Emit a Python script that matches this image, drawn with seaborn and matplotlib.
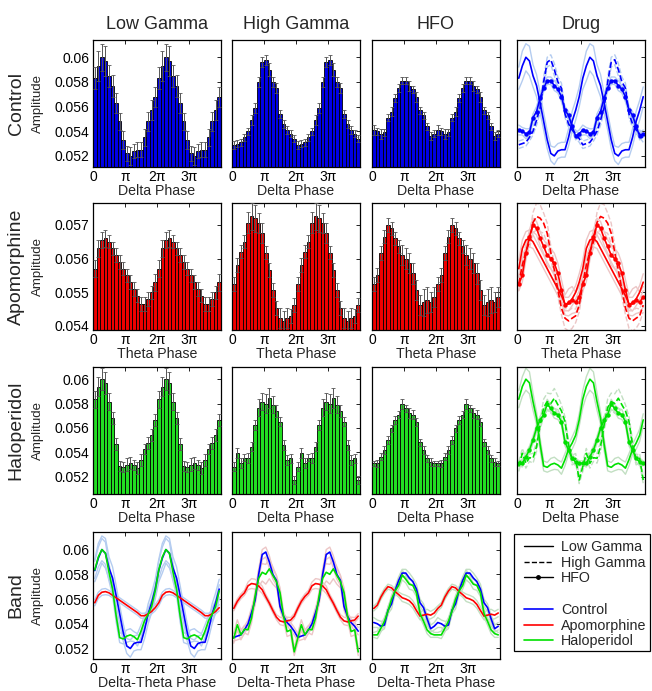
import numpy as np
import matplotlib
matplotlib.use("Agg")
import matplotlib.pyplot as plt
from matplotlib.lines import Line2D
from matplotlib.patches import Rectangle
import seaborn as sns

sns.set_style("white")
plt.rcParams['font.family'] = ['Liberation Sans', 'DejaVu Sans']

# ---------------- data (one 0..2pi cycle, 18 bins of 20 deg; shown twice) -------------
drugs = ["Control", "Apomorphine", "Haloperidol"]
bands = ["Low Gamma", "High Gamma", "HFO"]
phase_labels = ["Delta Phase", "Theta Phase", "Delta Phase"]
band_row_label = "Delta-Theta Phase"
xtick_labels = ["0", "π", "2π", "3π"]

control_lg = [0.0583, 0.0593, 0.0600, 0.0597, 0.0585, 0.0577, 0.0563, 0.0548, 0.0533,
              0.0522, 0.0520, 0.0524, 0.0525, 0.0525, 0.0535, 0.0548, 0.0557, 0.0568]
control_hg = [0.0529, 0.0530, 0.0531, 0.0535, 0.0540, 0.0549, 0.0559, 0.0580, 0.0596,
              0.0598, 0.0590, 0.0580, 0.0575, 0.0554, 0.0546, 0.0541, 0.0538, 0.0534]
control_hfo = [0.0541, 0.0540, 0.0538, 0.0539, 0.0551, 0.0556, 0.0567, 0.0575, 0.0581,
               0.0581, 0.0577, 0.0574, 0.0568, 0.0557, 0.0553, 0.0544, 0.0536, 0.0538]
apo_lg = [0.0557, 0.0563, 0.05655, 0.0566, 0.0565, 0.0563, 0.0561, 0.0559, 0.0557,
          0.0555, 0.0553, 0.0551, 0.0549, 0.05465, 0.05465, 0.0548, 0.0550, 0.0553]
apo_hg = [0.05525, 0.05581, 0.05621, 0.0565, 0.05707, 0.05725, 0.0572, 0.05705, 0.05675,
          0.05618, 0.05566, 0.05507, 0.05453, 0.05423, 0.05415, 0.05423, 0.0543, 0.05462]
apo_hfo = [0.05524, 0.05551, 0.05616, 0.05665, 0.0570, 0.0569, 0.0566, 0.05636, 0.0561,
           0.0560, 0.05586, 0.05556, 0.05507, 0.05462, 0.0547, 0.05477, 0.0547, 0.05487]
halo_lg = [0.05836, 0.0594, 0.0600, 0.0597, 0.05816, 0.0568, 0.05466, 0.05288, 0.05277,
           0.0530, 0.0531, 0.05296, 0.0527, 0.0534, 0.05425, 0.05475, 0.0554, 0.05666]
halo_hg = [0.05283, 0.05392, 0.0531, 0.05356, 0.05351, 0.05447, 0.05625, 0.05767, 0.05816,
           0.0580, 0.05844, 0.0579, 0.0574, 0.05652, 0.0546, 0.05337, 0.0535, 0.05173]
halo_hfo = [0.0531, 0.0531, 0.05364, 0.0542, 0.05502, 0.05598, 0.05666, 0.0571, 0.05795,
            0.0576, 0.0572, 0.0571, 0.0565, 0.05483, 0.0542, 0.0535, 0.0532, 0.0531]

control_lg_err = [0.0009, 0.0012, 0.0011, 0.0012, 0.0009, 0.0009, 0.0008, 0.0007, 0.0007,
                  0.0006, 0.0007, 0.0006, 0.0006, 0.0006, 0.0007, 0.0008, 0.0008, 0.0008]
control_hg_err = [0.0003, 0.0003, 0.0003, 0.0003, 0.0003, 0.0004, 0.0004, 0.0004, 0.0004,
                  0.0004, 0.0005, 0.0004, 0.0004, 0.0003, 0.0003, 0.0003, 0.0003, 0.0003]
control_hfo_err = [0.0004, 0.0003, 0.0004, 0.0003, 0.0003, 0.0004, 0.0003, 0.0003, 0.0003,
                   0.0003, 0.0004, 0.0003, 0.0004, 0.0003, 0.0003, 0.0003, 0.0003, 0.0003]
apo_lg_err = [0.00025, 0.00025, 0.00025, 0.00025, 0.0002, 0.0002, 0.0002, 0.0002, 0.0002,
              0.0002, 0.0002, 0.0002, 0.0002, 0.0002, 0.0002, 0.0002, 0.0002, 0.00025]
apo_hg_err = [0.0002, 0.0002, 0.0002, 0.0002, 0.0003, 0.0004, 0.0004, 0.0003, 0.0003,
              0.0002, 0.0002, 0.0002, 0.0002, 0.0003, 0.0003, 0.0003, 0.0002, 0.0002]
apo_hfo_err = [0.0002, 0.0002, 0.0002, 0.0002, 0.0002, 0.0002, 0.0002, 0.0002, 0.0003,
               0.0003, 0.0003, 0.0003, 0.0003, 0.0003, 0.0004, 0.0004, 0.0003, 0.0003]
halo_lg_err = [0.0007, 0.0008, 0.0009, 0.0009, 0.0007, 0.0005, 0.0005, 0.0004, 0.0004,
               0.0005, 0.0005, 0.0004, 0.0005, 0.0005, 0.0004, 0.0005, 0.0005, 0.0005]
halo_hg_err = [0.0004, 0.0004, 0.0004, 0.0003, 0.0004, 0.0004, 0.0004, 0.0007, 0.0007,
               0.0008, 0.0008, 0.0007, 0.0005, 0.0004, 0.0004, 0.0004, 0.0004, 0.0003]
halo_hfo_err = [0.0002, 0.0003, 0.0003, 0.0003, 0.0003, 0.0003, 0.0003, 0.0003, 0.0004,
                0.0003, 0.0004, 0.0004, 0.0003, 0.0003, 0.0003, 0.0003, 0.0003, 0.0002]

means = [[control_lg, control_hg, control_hfo],
         [apo_lg, apo_hg, apo_hfo],
         [halo_lg, halo_hg, halo_hfo]]
errs = [[control_lg_err, control_hg_err, control_hfo_err],
        [apo_lg_err, apo_hg_err, apo_hfo_err],
        [halo_lg_err, halo_hg_err, halo_hfo_err]]

row_ylims = [(0.0511, 0.0614), (0.05388, 0.05765), (0.05058, 0.0610), (0.05115, 0.06142)]
row_yticks = [[0.052, 0.054, 0.056, 0.058, 0.06], [0.054, 0.055, 0.056, 0.057],
              [0.052, 0.054, 0.056, 0.058, 0.06], [0.052, 0.054, 0.056, 0.058, 0.06]]
row_ytick_labels = [["0.052", "0.054", "0.056", "0.058", "0.06"],
                    ["0.054", "0.055", "0.056", "0.057"],
                    ["0.052", "0.054", "0.056", "0.058", "0.06"],
                    ["0.052", "0.054", "0.056", "0.058", "0.06"]]

bar_colors = ["#0000e6", "#f00000", "#22dd22"]
line_colors = ["#0000ff", "#ff0000", "#00e000"]
light_colors = ["#b4ccf0", "#ecc6c6", "#c2dfc2"]
band_styles = [dict(linestyle="-"), dict(linestyle="--"),
               dict(linestyle="-", marker="o", markersize=3.2)]

# ---------------- layout ----------------
W, H = 652, 691
fig = plt.figure(figsize=(W / 100, H / 100), dpi=100)
col_x = [93, 232, 372, 517]
row_y = [40, 203, 367, 532]
pw, ph = 128, 127
TICK_FS = 10
XLAB_FS = 10.2

nb = 36
step = 4 * np.pi / nb
centers = (np.arange(nb) + 0.5) * step


def make_ax(r, c):
    ax = fig.add_axes([col_x[c] / W, 1 - (row_y[r] + ph) / H, pw / W, ph / H])
    ax.set_xlim(0, 4 * np.pi)
    ax.set_ylim(*row_ylims[r])
    ax.set_xticks([0, np.pi, 2 * np.pi, 3 * np.pi])
    ax.set_xticklabels(xtick_labels)
    ax.set_yticks(row_yticks[r])
    if c == 0:
        ax.set_yticklabels(row_ytick_labels[r])
    else:
        ax.set_yticklabels([])
    ax.tick_params(direction="in", top=True, right=True, length=3, width=0.6,
                   labelsize=TICK_FS, pad=2.5, colors="black")
    for s in ax.spines.values():
        s.set_color("black")
        s.set_linewidth(0.9)
    ax.set_facecolor("white")
    return ax


def two(v):
    return np.concatenate([np.asarray(v), np.asarray(v)])


for d in range(3):
    for b in range(3):
        ax = make_ax(d, b)
        m = two(means[d][b])
        e = two(errs[d][b])
        sns.barplot(x=centers, y=m, native_scale=True, width=1.0, color=bar_colors[d],
                    edgecolor="black", linewidth=0.6, saturation=1, errorbar=None, ax=ax)
        ax.errorbar(centers, m, yerr=e, fmt="none", ecolor="#555555", elinewidth=0.7,
                    capsize=1.3, capthick=0.6, zorder=3)
        ax.set_xlim(0, 4 * np.pi)
        ax.set_ylim(*row_ylims[d])
        ax.set_xlabel(phase_labels[d], fontsize=XLAB_FS, labelpad=0)
        ax.set_ylabel("")
        if d == 0:
            ax.set_title(bands[b], fontsize=13, pad=8)
    # drug column
    ax = make_ax(d, 3)
    for b in range(3):
        m = two(means[d][b])
        e = two(errs[d][b])
        lst = band_styles[b].get("linestyle", "-")
        sns.lineplot(x=centers, y=m + e, ax=ax, color=light_colors[d], linewidth=1.0,
                     linestyle=lst)
        sns.lineplot(x=centers, y=m - e, ax=ax, color=light_colors[d], linewidth=1.0,
                     linestyle=lst)
    for b in range(3):
        m = two(means[d][b])
        sns.lineplot(x=centers, y=m, ax=ax, color=line_colors[d], linewidth=1.2,
                     markeredgewidth=0, **band_styles[b])
    ax.set_xlim(0, 4 * np.pi)
    ax.set_ylim(*row_ylims[d])
    ax.set_xlabel(phase_labels[d], fontsize=XLAB_FS, labelpad=0)
    ax.set_ylabel("")
    if d == 0:
        ax.set_title("Drug", fontsize=13, pad=8)

# band row
for b in range(3):
    ax = make_ax(3, b)
    for d in range(3):
        m = two(means[d][b])
        e = two(errs[d][b])
        sns.lineplot(x=centers, y=m + e, ax=ax, color=light_colors[b], linewidth=1.0)
        sns.lineplot(x=centers, y=m - e, ax=ax, color=light_colors[b], linewidth=1.0)
    for d in range(3):
        m = two(means[d][b])
        sns.lineplot(x=centers, y=m, ax=ax, color=line_colors[d], linewidth=1.2)
    ax.set_xlim(0, 4 * np.pi)
    ax.set_ylim(*row_ylims[3])
    ax.set_xlabel(band_row_label, fontsize=XLAB_FS, labelpad=0)
    ax.set_ylabel("")

# row labels
row_names = ["Control", "Apomorphine", "Haloperidol", "Band"]
for r, name in enumerate(row_names):
    yc = 1 - (row_y[r] + ph / 2) / H
    fig.text(16 / W, yc, name, rotation=90, ha="center", va="center", fontsize=14)
    fig.text(38 / W, yc, "Amplitude", rotation=90, ha="center", va="center", fontsize=9.5)

# legend (entries without frame; box drawn separately)
handles = [Line2D([], [], color="black", lw=1.0, ls="-"),
           Line2D([], [], color="black", lw=1.0, ls="--"),
           Line2D([], [], color="black", lw=1.0, ls="-", marker="o", markersize=2.5),
           Line2D([], [], color="none"),
           Line2D([], [], color=line_colors[0], lw=1.2),
           Line2D([], [], color=line_colors[1], lw=1.2),
           Line2D([], [], color=line_colors[2], lw=1.2)]
labels = ["Low Gamma", "High Gamma", "HFO", " ", "Control", "Apomorphine", "Haloperidol"]
leg = fig.legend(handles, labels, loc="upper left", bbox_to_anchor=(524 / W, 1 - 540 / H),
                 fontsize=10.3, frameon=False, handlelength=2.0,
                 handletextpad=0.6, labelspacing=0.12, borderpad=0.0, borderaxespad=0)
fig.add_artist(Rectangle((514 / W, 1 - 651 / H), 136 / W, 117 / H,
                         transform=fig.transFigure, fill=False, ec="black", lw=0.9))

fig.savefig("out.png", dpi=100, facecolor="white")
